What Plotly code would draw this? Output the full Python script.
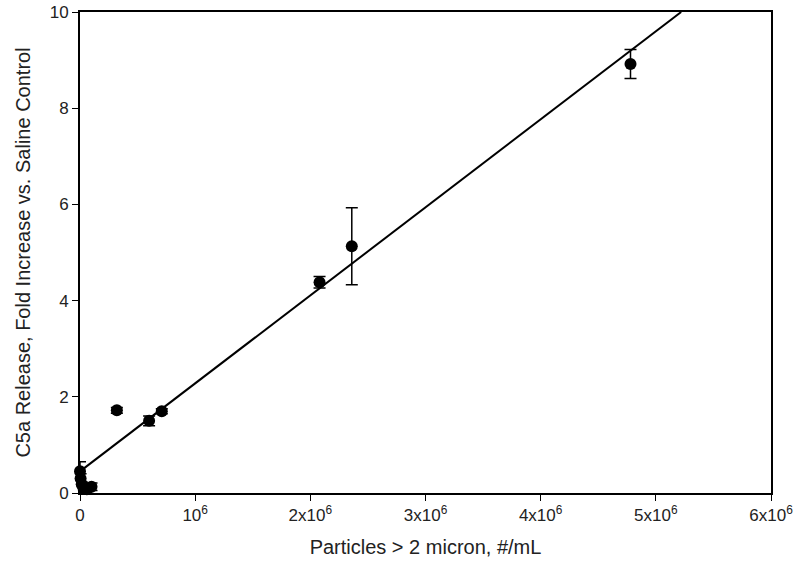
import plotly.graph_objects as go

# particle counts (#/mL) and C5a fold increase
particles = [0, 5e3, 1.5e4, 3e4, 6e4, 1.0e5, 3.2e5, 6.0e5, 7.1e5, 2.08e6, 2.36e6, 4.78e6]
c5a = [0.45, 0.30, 0.18, 0.10, 0.08, 0.13, 1.72, 1.50, 1.70, 4.38, 5.13, 8.92]
c5a_err = [0.20, 0.10, 0.05, 0.05, 0.05, 0.08, 0.06, 0.10, 0.05, 0.12, 0.80, 0.30]

# linear fit drawn in the figure
fit_x = [0, 5.22e6]
fit_y = [0.45, 10.0]

tick_vals = [0, 1e6, 2e6, 3e6, 4e6, 5e6, 6e6]
tick_text = ["0", "10<sup>6</sup>", "2x10<sup>6</sup>", "3x10<sup>6</sup>",
             "4x10<sup>6</sup>", "5x10<sup>6</sup>", "6x10<sup>6</sup>"]

fig = go.Figure()

fig.add_trace(go.Scatter(x=fit_x, y=fit_y, mode="lines",
                         line=dict(color="black", width=2), showlegend=False))

fig.add_trace(go.Scatter(
    x=particles, y=c5a, mode="markers",
    marker=dict(color="black", size=12),
    error_y=dict(type="data", array=c5a_err, color="black", thickness=1.5, width=6),
    cliponaxis=False, showlegend=False))

fig.update_layout(
    width=800, height=580,
    margin=dict(l=80, r=29, t=12, b=87, autoexpand=False),
    paper_bgcolor="white", plot_bgcolor="white",
    font=dict(family="Liberation Sans, Arial, sans-serif", size=17, color="#222"),
)

fig.update_xaxes(
    range=[0, 6e6], tickvals=tick_vals, ticktext=tick_text,
    showgrid=False, zeroline=False, automargin=False,
    showline=True, linecolor="black", linewidth=2, mirror=True,
    ticks="outside", ticklen=6, tickcolor="black", tickfont=dict(size=17),
    title=dict(text="Particles > 2 micron, #/mL", standoff=16, font=dict(size=20)),
)
fig.update_yaxes(
    range=[0, 10], tickvals=[0, 2, 4, 6, 8, 10],
    showgrid=False, zeroline=False, automargin=False,
    showline=True, linecolor="black", linewidth=2, mirror=True,
    ticks="outside", ticklen=6, tickcolor="black", tickfont=dict(size=17),
    title=dict(text="C5a Release, Fold Increase vs. Saline Control", standoff=14,
               font=dict(size=20)),
)

# drop the browser's default 8px body margin so the figure sits at the page corner
fig.write_html("out.html", config={"displayModeBar": False},
               post_script="document.body.style.margin='0';")
